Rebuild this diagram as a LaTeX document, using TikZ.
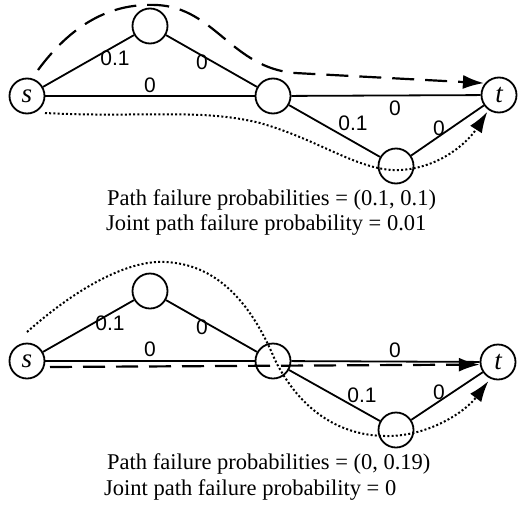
\documentclass[tikz,border=0pt]{standalone}
\usepackage{fontspec}
\setmainfont{Liberation Serif}
\newfontfamily\labelfont{Liberation Sans}
\usetikzlibrary{arrows.meta}
\begin{document}
\begin{tikzpicture}[x=1pt,y=-1pt,
  vertex/.style={circle,draw,line width=1.8pt,fill=white,minimum size=35pt,inner sep=0pt},
  terminal/.style={vertex,font=\fontsize{27}{27}\selectfont\itshape},
  edge/.style={line width=1.8pt},
  weight/.style={font=\labelfont\fontsize{21}{21}\selectfont,inner sep=0pt},
  caption/.style={anchor=west,font=\fontsize{22.5}{24}\selectfont,inner sep=0pt},
  tip/.style={-{Latex[length=21pt,width=14pt]}},
  dashpath/.style={tip,line width=2.2pt,dash pattern=on 22pt off 11pt},
  dotpath/.style={tip,line width=2pt,dash pattern=on 2pt off 2.2pt}]
\useasboundingbox (0,0) rectangle (518,514);

% ---------- upper network ----------
\node[terminal] (s1) at (27,96) {s};
\node[vertex]   (a1) at (150,26) {};
\node[vertex]   (m1) at (273,96) {};
\node[terminal] (t1) at (499,95) {t};
\node[vertex]   (b1) at (396,166) {};

\draw[edge] (s1) -- (a1);
\draw[edge] (a1) -- (m1);
\draw[edge] (s1) -- (m1);
\draw[edge] (m1) -- (t1);
\draw[edge] (m1) -- (b1);
\draw[edge] (b1) -- (t1);

\node[weight] at (115,58) {0.1};
\node[weight] at (202,62) {0};
\node[weight] at (150,85) {0};
\node[weight] at (395,108) {0};
\node[weight] at (353,123) {0.1};
\node[weight] at (439,128) {0};

\coordinate (d1) at (38,70);
\coordinate (p1) at (45,113);
\draw[dashpath,shorten >=1pt] (d1) .. controls (75,20) and (115,3) .. (157,5)
  .. controls (215,8) and (232,68) .. (295,73) -- (t1.140);
\draw[dotpath,shorten >=2pt] (p1) .. controls (140,118) and (200,108) .. (260,123)
  .. controls (320,140) and (360,172) .. (400,170)
  .. controls (440,168) and (468,142) .. (t1.-125);

\node[caption] (c1) at (107,200) {Path failure probabilities = (0.1, 0.1)};
\node[caption] (c2) at (106,225) {Joint path failure probability = 0.01};

% ---------- lower network ----------
\node[terminal] (s2) at (27,361) {s};
\node[vertex]   (a2) at (150,291) {};
\node[vertex]   (m2) at (273,361) {};
\node[terminal] (t2) at (498,362) {t};
\node[vertex]   (b2) at (396,430) {};

\draw[edge] (s2) -- (a2);
\draw[edge] (a2) -- (m2);
\draw[edge] (s2) -- (m2);
\draw[edge] (m2) -- (t2);
\draw[edge] (m2) -- (b2);
\draw[edge] (b2) -- (t2);

\node[weight] at (110,323) {0.1};
\node[weight] at (202,327) {0};
\node[weight] at (150,349) {0};
\node[weight] at (395,350) {0};
\node[weight] at (362,395) {0.1};
\node[weight] at (439,392) {0};

\coordinate (d2) at (50,367);
\coordinate (p2) at (27,332);
\draw[dashpath] (d2) -- (t2.188);
\draw[dotpath,shorten >=3pt] (p2) .. controls (80,285) and (130,260) .. (165,262)
  .. controls (215,264) and (250,300) .. (275,360)
  .. controls (300,410) and (340,437) .. (390,436)
  .. controls (430,435) and (465,412) .. (t2.-115);

\node[caption] (c3) at (107,464) {Path failure probabilities = (0, 0.19)};
\node[caption] (c4) at (104,490) {Joint path failure probability = 0};
\end{tikzpicture}
\end{document}
